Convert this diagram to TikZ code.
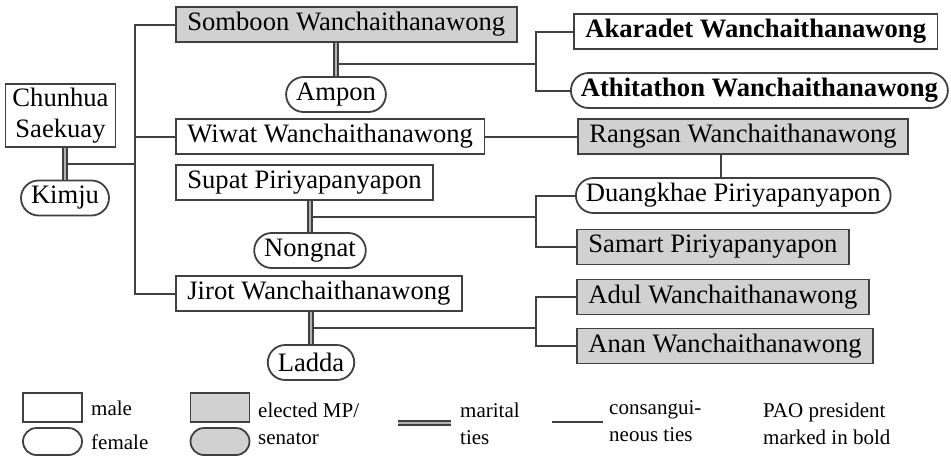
\documentclass[tikz,border=0pt]{standalone}
\usepackage{fontspec}
\setmainfont{Liberation Serif}
\usetikzlibrary{positioning,calc}

\begin{document}
\begin{tikzpicture}[x=1pt,y=-1pt]

\tikzstyle{male}=[rectangle,draw=black!75,line width=1.8pt,fill=white,minimum height=35pt,inner xsep=11.5pt,inner ysep=4pt,font=\fontsize{26.6}{31}\selectfont]
\tikzstyle{female}=[male,rounded corners=17.5pt,inner xsep=10pt]
\tikzstyle{mp}=[fill=black!18]
\tikzstyle{pao}=[font=\fontsize{26.6}{31}\selectfont\bfseries]
\tikzstyle{kin}=[draw=black!75,line width=2pt]
\tikzstyle{marital}=[draw=black!75,line width=1.6pt,double=black!30,double distance=2pt]
\tikzstyle{legbox}=[rectangle,draw=black!75,line width=1.8pt,fill=white,minimum width=59pt,minimum height=29pt,inner sep=0pt]
\tikzstyle{legtext}=[anchor=west,inner sep=0pt,align=left,font=\fontsize{21}{27}\selectfont]

\useasboundingbox (0,0) rectangle (951,456);

\coordinate (trunk) at (135,0);
\coordinate (fork) at (536,0);
\coordinate (rd) at (721,0);

% first generation
\node[male,align=center,inner xsep=7pt] (chunhua) at (60.5,115.5) {Chunhua\\Saekuay};
\node[female] (kimju) at (65,198) {Kimju};

% second generation
\node[male,mp,anchor=west] (somboon) at (175,24.5) {Somboon Wanchaithanawong};
\node[female] (ampon) at (336,94.5) {Ampon};
\node[male,anchor=west] (wiwat) at (175,136.5) {Wiwat Wanchaithanawong};
\node[male,anchor=west] (supat) at (175,182.5) {Supat Piriyapanyapon};
\node[female] (nongnat) at (310,250.5) {Nongnat};
\node[male,anchor=west] (jirot) at (175,293.5) {Jirot Wanchaithanawong};
\node[female] (ladda) at (311,362.5) {Ladda};

% third generation
\node[male,pao,anchor=west] (akaradet) at (573,31.5) {Akaradet Wanchaithanawong};
\node[female,pao,anchor=west] (athitathon) at (570,90.5) {Athitathon Wanchaithanawong};
\node[male,mp,anchor=west] (rangsan) at (577,136.5) {Rangsan Wanchaithanawong};
\node[female,anchor=west] (duangkhae) at (575,195.5) {Duangkhae Piriyapanyapon};
\node[male,mp,anchor=west] (samart) at (576,247) {Samart Piriyapanyapon};
\node[male,mp,anchor=west] (adul) at (576,297) {Adul Wanchaithanawong};
\node[male,mp,anchor=west] (anan) at (576,346) {Anan Wanchaithanawong};

% consanguineous ties
\path (kimju.north |- chunhua.south) -- coordinate[pos=0.5] (ck) (kimju.north);
\path (ampon.north |- somboon.south) -- coordinate[pos=0.65] (sa) (ampon.north);
\path (nongnat.north |- supat.south) -- coordinate[pos=0.5] (sn) (nongnat.north);
\path (ladda.north |- jirot.south) -- coordinate[pos=0.5] (jl) (ladda.north);

\draw[kin] (ck) -- (ck -| trunk);
\draw[kin] (somboon.west) -| (trunk |- jirot.west) -- (jirot.west);
\draw[kin] (wiwat.west) -- (wiwat.west -| trunk);
\draw[kin] (sa) -- (sa -| fork);
\draw[kin] (akaradet.west) -| (fork |- athitathon.west) -- (athitathon.west);
\draw[kin] (wiwat.east) -- (rangsan.west);
\draw[kin] (rd |- rangsan.south) -- (rd |- duangkhae.north);
\draw[kin] (sn) -- (sn -| fork);
\draw[kin] (duangkhae.west) -| (fork |- samart.west) -- (samart.west);
\draw[kin] (jl) -- (jl -| fork);
\draw[kin] (adul.west) -| (fork |- anan.west) -- (anan.west);

% marital ties
\draw[marital] (kimju.north |- chunhua.south) -- (kimju.north);
\draw[marital] (ampon.north |- somboon.south) -- (ampon.north);
\draw[marital] (nongnat.north |- supat.south) -- (nongnat.north);
\draw[marital] (ladda.north |- jirot.south) -- (ladda.north);

% legend
\node[legbox] (lmale) at (52.5,407.5) {};
\node[legbox,rounded corners=13.5pt,minimum height=27pt] (lfemale) at (52.5,441.5) {};
\node[legbox,mp] (lmp) at (220,407.5) {};
\node[legbox,mp,rounded corners=13.5pt,minimum height=27pt] (lmpf) at (220,441.5) {};
\node[legtext] (tmale) at (91,408) {male};
\node[legtext] (tfemale) at (91,442) {female};
\node[legtext] (tmp) at (258,423.5) {elected MP/\\senator};
\coordinate (lma) at (398,423);
\coordinate (lmb) at (451,423);
\draw[marital] (lma) -- (lmb);
\node[legtext] (tmar) at (460,423.5) {marital\\ties};
\coordinate (lka) at (552,422);
\coordinate (lkb) at (603,422);
\draw[kin] (lka) -- (lkb);
\node[legtext] (tkin) at (609,421.5) {consangui-\\neous ties};
\node[legtext] (tpao) at (763,423.5) {PAO president\\marked in bold};
%\draw[kin,dashed] (rangsan) -- (duangkhae);
\end{tikzpicture}
\end{document}
